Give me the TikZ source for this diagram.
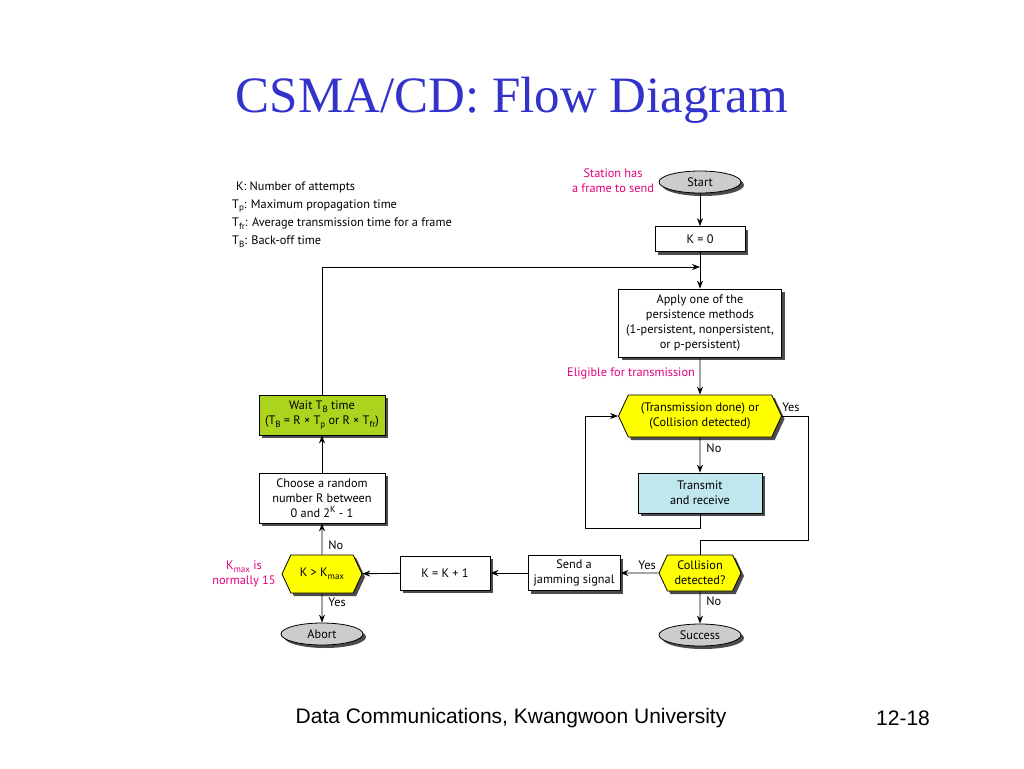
\documentclass[tikz,border=0pt]{standalone}
\usepackage{fontspec}
\setmainfont{PT Sans}
\newfontfamily\titlefont{Liberation Serif}
\newfontfamily\footfont{Liberation Sans}
\usetikzlibrary{shapes.geometric,shapes.symbols,shadows,arrows.meta}
\newcommand\subx[1]{\raisebox{-0.45ex}{\fontsize{9}{9}\selectfont #1}}
\newcommand\supx[1]{\raisebox{0.75ex}{\fontsize{9}{9}\selectfont #1}}
\definecolor{titleblue}{RGB}{51,51,204}
\definecolor{mag}{RGB}{228,0,126}
\definecolor{ygreen}{RGB}{172,212,30}
\definecolor{lblue}{RGB}{192,230,238}
\definecolor{egray}{RGB}{204,204,204}
\definecolor{hyellow}{RGB}{255,255,0}
\tikzset{
  x=1pt, y=-1pt,
  txt/.style={font=\fontsize{12.3}{15}\selectfont, inner sep=1pt},
  shad/.style={drop shadow={shadow xshift=3pt, shadow yshift=-3pt, fill=black!70, opacity=1}},
  box/.style={draw, line width=0.8pt, fill=white, align=center, txt, shad, inner sep=2pt},
  oval/.style={ellipse, draw, line width=0.8pt, fill=egray, txt, shad, minimum width=82pt, minimum height=22pt, inner sep=0pt},
  hexa/.style={signal, signal to=east and west, signal pointer angle=130, draw, line width=0.8pt, fill=hyellow, align=center, txt, shad, inner sep=1pt},
  arr/.style={line width=0.9pt, -{Stealth[length=8pt,width=6pt]}},
  lnk/.style={line width=0.9pt},
  note/.style={text=mag, align=center, txt},
  lab/.style={txt}
}
\begin{document}
\begin{tikzpicture}
\useasboundingbox[fill=white] (0,0) rectangle (1024,768);
% title and footer
\node[text=titleblue, font=\titlefont\fontsize{51}{51}\selectfont] (title) at (512,100) {CSMA/CD: Flow Diagram};
\node[font=\footfont\fontsize{21}{21}\selectfont] (foot) at (511,718) {Data Communications, Kwangwoon University};
\node[font=\footfont\fontsize{21}{21}\selectfont] (page) at (903,718) {12-18};
% legend
\node[lab, anchor=west] (l1) at (235,187) {K: Number of attempts};
\node[lab, anchor=west] (l2) at (231,206) {T\subx{p}: Maximum propagation time};
\node[lab, anchor=west] (l3) at (231,224) {T\subx{fr}: Average transmission time for a frame};
\node[lab, anchor=west] (l4) at (231,242) {T\subx{B}: Back-off time};
% nodes
\node[oval] (start) at (700,182) {Start};
\node[note] (station) at (613,181) {Station has\\a frame to send};
\node[box, minimum width=90pt, minimum height=25pt] (k0) at (700,239) {K = 0};
\node[box, minimum width=163pt, minimum height=68pt] (pers) at (700,323) {Apply one of the\\persistence methods\\(1-persistent, nonpersistent,\\or p-persistent)};
\node[note, anchor=west] (elig) at (566,373) {Eligible for transmission};
\node[hexa, minimum width=163pt, minimum height=42pt] (td) at (700,416) {(Transmission done) or\\(Collision detected)};
\node[box, fill=lblue, minimum width=124pt, minimum height=40pt] (trans) at (700,493) {Transmit\\and receive};
\node[hexa, minimum width=82pt, minimum height=36pt] (cd) at (700,573) {Collision\\detected?};
\node[oval] (success) at (700,635) {Success};
\node[box, minimum width=92pt, minimum height=35pt] (send) at (574,573) {Send a\\jamming signal};
\node[box, minimum width=90pt, minimum height=34pt] (kk) at (445,573) {K = K + 1};
\node[hexa, minimum width=80pt, minimum height=38pt] (km) at (322,574) {K > K\subx{max}};
\node[note] (kmaxnote) at (244,574) {K\subx{max} is\\normally 15};
\node[oval] (abort) at (322,634) {Abort};
\node[box, minimum width=126pt, minimum height=50pt] (choose) at (322,498) {Choose a random\\number R between\\0 and 2\supx{K} - 1};
\node[box, fill=ygreen, minimum width=126pt, minimum height=40pt] (wait) at (322,415) {Wait T\subx{B} time\\(T\subx{B} = R × T\subx{p} or R × T\subx{fr})};
% coordinates
\coordinate (loopin) at (700,267);
\coordinate (lb) at (585,528);
\coordinate (rt) at (808,540);
% connectors
\draw[arr] (start) -- (k0);
\draw[arr] (k0) -- (pers);
\draw[arr] (wait.north) |- (loopin);
\draw[arr] (pers) -- (td);
\draw[arr] (td) -- node[lab, right=5pt, pos=0.3] {No} (trans);
\draw[arr] (trans.south) |- (lb) |- (td.west);
\draw[lnk] (td.east) -| (rt) -| (cd.north);
\node[lab] (yes1) at (791,407) {Yes};
\draw[arr] (cd) -- node[lab, above=2pt, pos=0.3] {Yes} (send);
\draw[arr] (cd) -- node[lab, right=5pt, pos=0.3] {No} (success);
\draw[arr] (send) -- (kk);
\draw[arr] (kk) -- (km);
\draw[arr] (km) -- node[lab, right=5pt, pos=0.3] {No} (choose);
\draw[arr] (km) -- node[lab, right=5pt, pos=0.3] {Yes} (abort);
\draw[arr] (choose) -- (wait);
\end{tikzpicture}
\end{document}
